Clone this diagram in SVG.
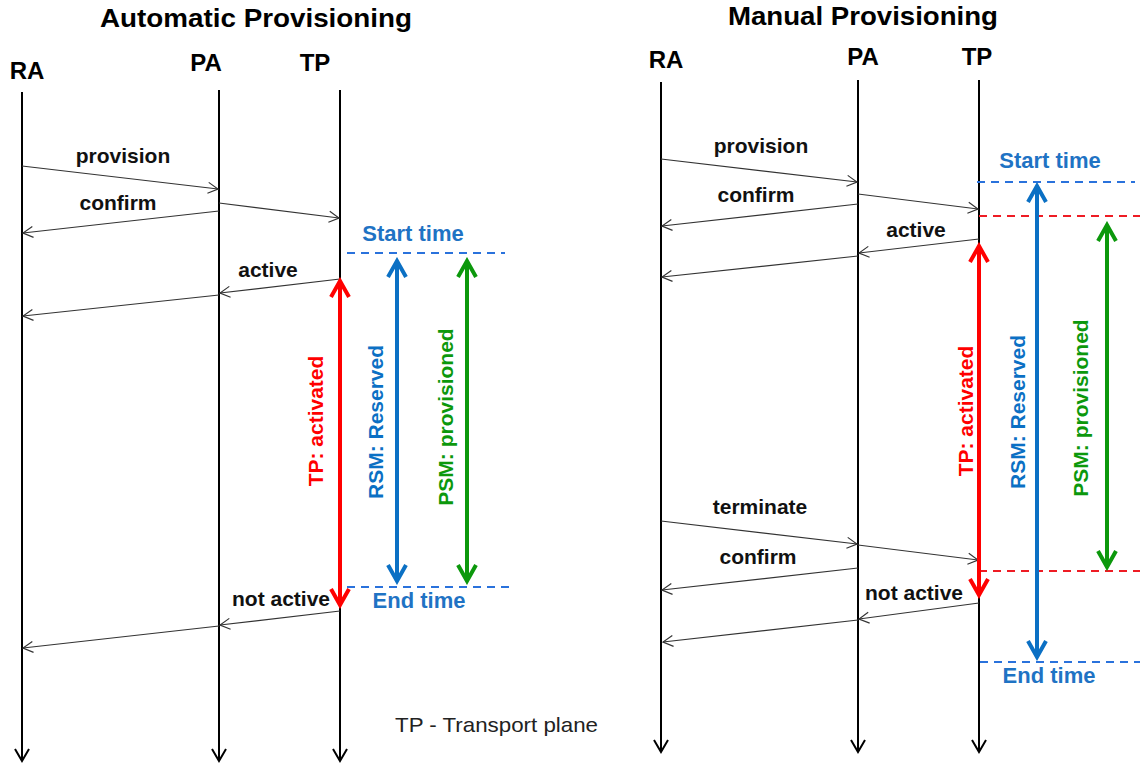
<svg xmlns="http://www.w3.org/2000/svg" width="1140" height="763" viewBox="0 0 1140 763">
<style>
text{font-family:"Liberation Sans",Arial,sans-serif}
.title{font-size:25px;font-weight:bold;fill:#000}
.actor{font-size:24px;font-weight:bold;fill:#000;text-anchor:middle}
.msgl{font-size:21px;font-weight:bold;fill:#111;text-anchor:middle}
.time{font-size:22px;font-weight:bold;fill:#1f73c4;text-anchor:middle}
.vlab{font-size:21px;font-weight:bold;text-anchor:middle}
.life{stroke:#000;stroke-width:2;fill:none;marker-end:url(#mLife)}
.msg{stroke:#333;stroke-width:1.2;fill:none;marker-end:url(#mMsg)}
.dB{stroke:#2a72dc;stroke-width:2;stroke-dasharray:8 6;fill:none}
.dR{stroke:#ee1c24;stroke-width:2;stroke-dasharray:8 6;fill:none}
.aR{stroke:#ff0000;stroke-width:4;fill:none;marker-start:url(#mRed);marker-end:url(#mRed)}
.aB{stroke:#0b70c4;stroke-width:4;fill:none;marker-start:url(#mBlue);marker-end:url(#mBlue)}
.aG{stroke:#0c980c;stroke-width:4;fill:none;marker-start:url(#mGreen);marker-end:url(#mGreen)}
</style>
<defs>
<marker id="mMsg" markerUnits="userSpaceOnUse" viewBox="0 0 12 14" refX="11" refY="7" markerWidth="12" markerHeight="14" orient="auto"><path d="M1,1.5 L11,7 L1,12.5" fill="none" stroke="#333" stroke-width="1.2"/></marker>
<marker id="mLife" markerUnits="userSpaceOnUse" viewBox="0 0 16 18" refX="14" refY="9" markerWidth="16" markerHeight="18" orient="auto"><path d="M2,2 L14,9 L2,16" fill="none" stroke="#000" stroke-width="2"/></marker>
<marker id="mRed" markerUnits="userSpaceOnUse" viewBox="0 0 22 24" refX="18" refY="12" markerWidth="22" markerHeight="24" orient="auto-start-reverse"><path d="M2,3 L18,12 L2,21" fill="none" stroke="#ff0000" stroke-width="4"/></marker>
<marker id="mBlue" markerUnits="userSpaceOnUse" viewBox="0 0 22 24" refX="18" refY="12" markerWidth="22" markerHeight="24" orient="auto-start-reverse"><path d="M2,3 L18,12 L2,21" fill="none" stroke="#0b70c4" stroke-width="4"/></marker>
<marker id="mGreen" markerUnits="userSpaceOnUse" viewBox="0 0 22 24" refX="18" refY="12" markerWidth="22" markerHeight="24" orient="auto-start-reverse"><path d="M2,3 L18,12 L2,21" fill="none" stroke="#0c980c" stroke-width="4"/></marker>
</defs>
<rect width="1140" height="763" fill="#fff"/>

<!-- Titles -->
<text class="title" x="100" y="27" textLength="312" lengthAdjust="spacingAndGlyphs">Automatic Provisioning</text>
<text class="title" x="728" y="25" textLength="270" lengthAdjust="spacingAndGlyphs">Manual Provisioning</text>

<!-- Left actors -->
<g id="L-RA"><text class="actor" x="27" y="79">RA</text><line class="life" x1="22" y1="92" x2="22" y2="761"/></g>
<g id="L-PA"><text class="actor" x="206" y="71">PA</text><line class="life" x1="219" y1="90" x2="219" y2="761"/></g>
<g id="L-TP"><text class="actor" x="315" y="71">TP</text><line class="life" x1="340" y1="90" x2="340" y2="761"/></g>

<!-- Right actors -->
<g id="R-RA"><text class="actor" x="666" y="68">RA</text><line class="life" x1="661" y1="82" x2="661" y2="752"/></g>
<g id="R-PA"><text class="actor" x="863" y="65">PA</text><line class="life" x1="858" y1="80" x2="858" y2="752"/></g>
<g id="R-TP"><text class="actor" x="977" y="65">TP</text><line class="life" x1="979" y1="80" x2="979" y2="752"/></g>

<!-- Timing markers -->
<g id="L-times">
<line class="dB" x1="347" y1="253" x2="505" y2="253"/>
<line class="dB" x1="347" y1="587" x2="510" y2="587"/>
<text class="time" x="413" y="241">Start time</text>
<text class="time" x="419" y="608">End time</text>
</g>
<g id="R-times">
<line class="dB" x1="977" y1="182" x2="1135" y2="182"/>
<line class="dR" x1="979" y1="216" x2="1140" y2="216"/>
<line class="dR" x1="979" y1="571" x2="1140" y2="571"/>
<line class="dB" x1="980" y1="662" x2="1140" y2="662"/>
<text class="time" x="1050" y="168">Start time</text>
<text class="time" x="1049" y="683">End time</text>
</g>

<!-- Connectors -->
<g id="connectors">
<line class="msg" x1="22" y1="166" x2="218" y2="189"/>
<line class="msg" x1="219" y1="203" x2="339" y2="218"/>
<line class="msg" x1="219" y1="211" x2="23" y2="233"/>
<line class="msg" x1="340" y1="279" x2="220" y2="293"/>
<line class="msg" x1="219" y1="295" x2="23" y2="316"/>
<line class="msg" x1="340" y1="611" x2="220" y2="625"/>
<line class="msg" x1="219" y1="626" x2="23" y2="648"/>

<line class="msg" x1="661" y1="159" x2="857" y2="182"/>
<line class="msg" x1="858" y1="194" x2="978" y2="209"/>
<line class="msg" x1="858" y1="204" x2="662" y2="226"/>
<line class="msg" x1="979" y1="239" x2="859" y2="253"/>
<line class="msg" x1="858" y1="256" x2="662" y2="277"/>
<line class="msg" x1="661" y1="521" x2="857" y2="544"/>
<line class="msg" x1="858" y1="545" x2="978" y2="560"/>
<line class="msg" x1="858" y1="568" x2="662" y2="590"/>
<line class="msg" x1="979" y1="603" x2="859" y2="619"/>
<line class="msg" x1="858" y1="620" x2="663" y2="642"/>
</g>

<!-- Message labels -->
<g id="L-labels">
<text class="msgl" x="123" y="163">provision</text>
<text class="msgl" x="118" y="210">confirm</text>
<text class="msgl" x="268" y="277">active</text>
<text class="msgl" x="281" y="606">not active</text>
</g>
<g id="R-labels">
<text class="msgl" x="761" y="153">provision</text>
<text class="msgl" x="756" y="202">confirm</text>
<text class="msgl" x="916" y="237">active</text>
<text class="msgl" x="760" y="514">terminate</text>
<text class="msgl" x="758" y="564">confirm</text>
<text class="msgl" x="914" y="600">not active</text>
</g>

<!-- State arrows -->
<g id="L-states">
<line class="aR" x1="340" y1="281" x2="340" y2="605"/>
<line class="aB" x1="397" y1="261" x2="397" y2="581"/>
<line class="aG" x1="467" y1="261" x2="467" y2="581"/>
<text class="vlab" fill="#ff0000" transform="translate(323,421) rotate(-90)">TP: activated</text>
<text class="vlab" fill="#0b70c4" transform="translate(383,422) rotate(-90)">RSM: Reserved</text>
<text class="vlab" fill="#0c980c" transform="translate(453,417) rotate(-90)">PSM: provisioned</text>
</g>
<g id="R-states">
<line class="aR" x1="979" y1="246" x2="979" y2="595"/>
<line class="aB" x1="1037" y1="186" x2="1037" y2="657"/>
<line class="aG" x1="1107" y1="225" x2="1107" y2="567"/>
<text class="vlab" fill="#ff0000" transform="translate(973,411) rotate(-90)">TP: activated</text>
<text class="vlab" fill="#0b70c4" transform="translate(1025,412) rotate(-90)">RSM: Reserved</text>
<text class="vlab" fill="#0c980c" transform="translate(1088,408) rotate(-90)">PSM: provisioned</text>
</g>

<text x="395" y="732" font-size="21" fill="#222" textLength="203" lengthAdjust="spacingAndGlyphs">TP - Transport plane</text>
</svg>
